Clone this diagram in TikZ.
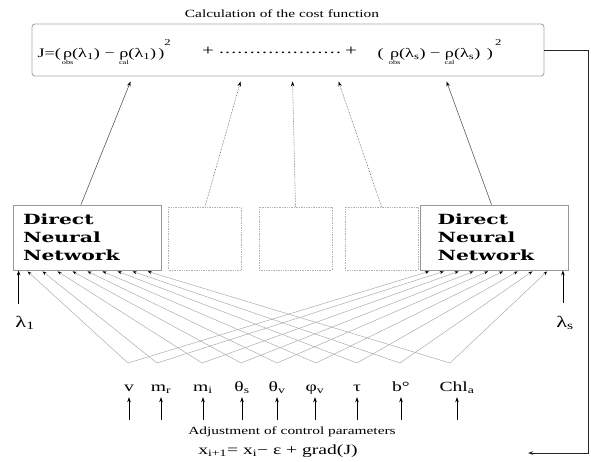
\documentclass[tikz,border=0pt]{standalone}
\usepackage{amsmath}
\usepackage{fontspec}
\setmainfont{Liberation Serif}[FakeStretch=1.4]
\newfontfamily\nnfont{DejaVu Serif}[FakeStretch=1.45]
\usetikzlibrary{calc, positioning, arrows.meta}

\newcommand{\rhob}[1]{\setbox0\hbox{ρ}\rlap{\makebox[\wd0]{\raisebox{-7pt}{\fontsize{6}{6}\selectfont #1}}}\box0}

\begin{document}
\begin{tikzpicture}[x=1pt, y=-1pt,
  nnbox/.style={draw=gray!80, line width=0.8pt, minimum width=148pt, minimum height=65pt,
    align=left, font=\nnfont\bfseries\fontsize{14}{18}\selectfont},
  midbox/.style={draw=gray!60, densely dotted, line width=0.7pt, minimum width=73pt, minimum height=63pt},
  tocost/.style={gray!70!black, line width=0.6pt, -{Stealth[length=5pt, width=3.5pt, black]}},
  cross/.style={gray!65, line width=0.5pt, -{Stealth[length=4pt, width=3pt, color=black]}},
  uparrow/.style={black, line width=0.6pt, -{Stealth[length=5pt, width=3.5pt]}},
  param/.style={anchor=base, font=\fontsize{14}{16}\selectfont, text height=10pt, text depth=4pt, inner sep=2pt}]
\useasboundingbox (0,0) rectangle (591,461);

% Cost function
\node[font=\fontsize{11}{13}\selectfont] (title) at (282,14) {Calculation of the cost function};
\node[draw=gray!70, line width=0.9pt, rounded corners=3pt, minimum width=512pt, minimum height=52pt] (cost) at (288,50) {};
\node[anchor=west, font=\fontsize{13}{15}\selectfont] (termA) at (34,52)
  {J=(\,\rhob{obs}(λ\textsubscript{1}) − \rhob{cal}(λ\textsubscript{1})\,)\raisebox{12pt}{\small 2}};
\node[font=\fontsize{15}{16}\selectfont] (plusA) at (208,51) {+};
\node[font=\fontsize{14}{16}\selectfont, inner sep=0pt] (dots) at (280,53) {\makebox[124pt]{\dotfill}};
\node[font=\fontsize{15}{16}\selectfont] (plusB) at (351,51) {+};
\node[anchor=west, font=\fontsize{13}{15}\selectfont] (termB) at (374,52)
  {(\enspace\rhob{obs}(λ\textsubscript{s}) − \rhob{cal}(λ\textsubscript{s})\enspace)\,\raisebox{12pt}{\small 2}};

% Networks
\node[nnbox, text width=128pt, inner xsep=10pt] (nnL) at (87,237.5) {Direct\\Neural\\Network};
\node[midbox] (box2) at (205,238.5) {};
\node[midbox] (box3) at (295.5,238.5) {};
\node[midbox] (box4) at (381.5,238.5) {};
\node[nnbox, text width=114pt, inner xsep=16pt] (nnR) at (494.5,237.5) {Direct\\Neural\\Network};

% Arrows up to the cost function
\coordinate (t1) at ($(cost.south west)+(99,5)$);
\coordinate (t2) at ($(cost.south west)+(209,5)$);
\coordinate (t3) at ($(cost.south west)+(261,5)$);
\coordinate (t4) at ($(cost.south west)+(307,5)$);
\coordinate (t5) at ($(cost.south west)+(415,5)$);
\draw[tocost] ($(nnL.north)+(-6,0)$) -- (t1);
\draw[tocost, densely dotted] (box2.north) -- (t2);
\draw[tocost, densely dotted] (box3.north) -- (t3);
\draw[tocost, densely dotted] (box4.north) -- (t4);
\draw[tocost] ($(nnR.north)+(-3,0)$) -- (t5);

% Wavelength inputs
\node[font=\fontsize{16}{18}\selectfont] (lam1) at (25,323) {λ\textsubscript{1}};
\node[font=\fontsize{16}{18}\selectfont] (lamS) at (565,323) {λ\textsubscript{s}};
\coordinate (inL) at ($(nnL.south west)+(6,0)$);
\coordinate (inR) at ($(nnR.south east)+(-6,0)$);
\draw[uparrow, shorten <=9pt] (inL |- lam1.north) -- (inL);
\draw[uparrow, shorten <=9pt] (inR |- lamS.north) -- (inR);

% Control parameters and their links to both networks
\foreach \x/\ax/\lab [count=\k] in {129/128/v, 161/157/m\textsubscript{r}, 203/202/m\textsubscript{i},
    242/241/θ\textsubscript{s}, 277/277/θ\textsubscript{v}, 315/316/φ\textsubscript{v},
    357/357/τ, 401/400/b°, 457/450/Chl\textsubscript{a}} {
  \node[param] (p\k) at (\x,391) {\lab};
  \coordinate (a\k) at (\ax,363);
  \coordinate (q\k) at (\x,420);
  \coordinate (l\k) at ($(nnL.south west)+(15*\k,1)$);
  \coordinate (r\k) at ($(nnR.south west)+(-5.75+14.75*\k,1)$);
  \draw[cross] (a\k) -- (l\k);
  \draw[cross] (a\k) -- (r\k);
  \draw[uparrow] (q\k) -- (p\k);
}

% Update rule
\node[font=\fontsize{11}{13}\selectfont] (adjust) at (292,432) {Adjustment of control parameters};
\node[font=\fontsize{14}{16}\selectfont] (update) at (278,451) {x\textsubscript{i+1}= x\textsubscript{i}− ε + grad(J)};

% Feedback
\coordinate (fb) at (528,453);
\draw[gray!30!black, line width=0.9pt, -{Stealth[length=5pt, width=3.5pt]}] (cost.east) -- ++(44,0) |- (fb);
\end{tikzpicture}
\end{document}
